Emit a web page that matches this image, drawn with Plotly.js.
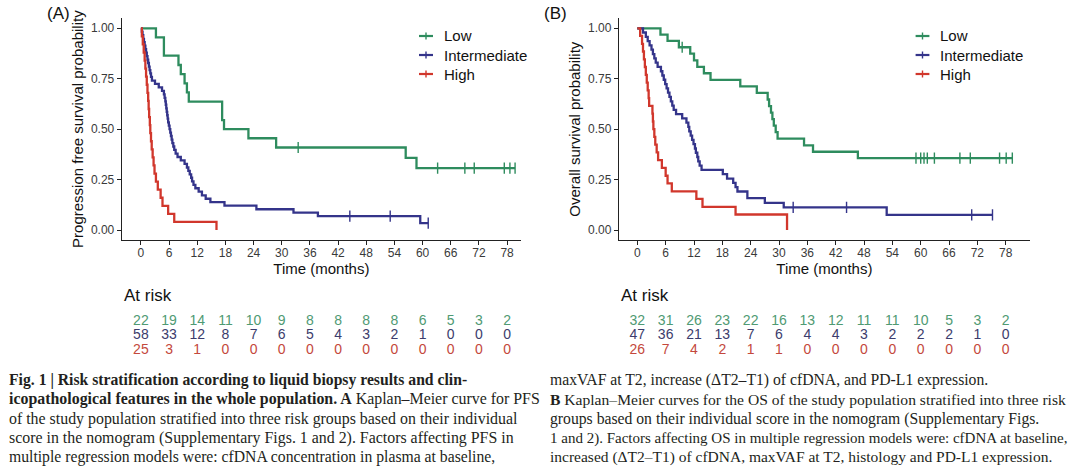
<!DOCTYPE html>
<html><head><meta charset="utf-8">
<script src="https://cdn.plot.ly/plotly-3.0.1.min.js"></script>
<style>html,body{margin:0;padding:0;background:#fff;}#chart{width:1080px;height:476px;}</style>
</head><body><div id="chart"></div>
<script>
// ---------- data ----------
const groups = ['Low', 'Intermediate', 'High'];
const riskTimes = [0, 6, 12, 18, 24, 30, 36, 42, 48, 54, 60, 66, 72, 78];

// Panel A: progression free survival (step times and survival after each step)
const pfsLowTime = [0, 3.2, 4.9, 8.0, 8.5, 9.3, 9.8, 10.2, 17.3, 17.7, 22.9, 28.8, 56.4, 58.7, 79.7];
const pfsLowSurv = [1, 0.955, 0.864, 0.818, 0.773, 0.727, 0.682, 0.636, 0.545, 0.5, 0.455, 0.409, 0.358, 0.307, 0.307];
const pfsLowCens = [33.5, 63.2, 69.0, 71.0, 77.4, 78.6, 79.7];

const pfsIntTime = [0, 0.2, 0.35, 0.5, 0.65, 0.8, 0.95, 1.1, 1.25, 1.4, 1.55, 1.7, 1.85, 2.0, 2.15, 2.35, 3.0, 3.8, 4.5, 4.9, 5.05, 5.2, 5.3, 5.4, 5.5, 5.6, 5.7, 5.8, 5.95, 6.1, 6.25, 6.4, 6.55, 6.7, 6.9, 7.1, 7.4, 7.8, 8.5, 9.3, 9.8, 10.1, 10.4, 10.7, 10.9, 11.2, 11.6, 12.3, 13.0, 13.8, 14.8, 17.8, 24.6, 32.5, 37.7, 59.5, 61.2];
const pfsIntSurv = [1, 0.983, 0.966, 0.948, 0.931, 0.914, 0.897, 0.879, 0.862, 0.845, 0.828, 0.810, 0.793, 0.776, 0.759, 0.741, 0.724, 0.707, 0.690, 0.672, 0.655, 0.638, 0.621, 0.603, 0.586, 0.569, 0.552, 0.534, 0.517, 0.500, 0.483, 0.466, 0.448, 0.431, 0.414, 0.397, 0.379, 0.362, 0.345, 0.328, 0.310, 0.293, 0.276, 0.259, 0.241, 0.224, 0.207, 0.190, 0.172, 0.155, 0.138, 0.121, 0.103, 0.086, 0.069, 0.034, 0.034];
const pfsIntCens = [44.5, 53.1, 61.2];

const pfsHighTime = [0, 0.2, 0.4, 0.6, 0.8, 0.95, 1.1, 1.25, 1.4, 1.55, 1.65, 1.75, 1.9, 2.0, 2.15, 2.3, 2.5, 2.7, 2.9, 3.2, 3.6, 4.2, 4.6, 5.8, 7.1, 16.1];
const pfsHighSurv = [1, 0.96, 0.92, 0.88, 0.84, 0.80, 0.76, 0.72, 0.68, 0.64, 0.60, 0.56, 0.52, 0.48, 0.44, 0.40, 0.36, 0.32, 0.28, 0.24, 0.20, 0.16, 0.12, 0.08, 0.04, 0];
const pfsHighCens = [];

const pfsRiskLow = [22, 19, 14, 11, 10, 9, 8, 8, 8, 8, 6, 5, 3, 2];
const pfsRiskInt = [58, 33, 12, 8, 7, 6, 5, 4, 3, 2, 1, 0, 0, 0];
const pfsRiskHigh = [25, 3, 1, 0, 0, 0, 0, 0, 0, 0, 0, 0, 0, 0];

// Panel B: overall survival
const osLowTime = [0, 4.9, 6.4, 8.8, 11.2, 12.0, 12.7, 14.1, 15.5, 21.8, 25.3, 27.6, 27.9, 28.3, 28.6, 28.9, 29.3, 29.7, 35.3, 37.2, 46.7, 79.4];
const osLowSurv = [1, 0.969, 0.938, 0.906, 0.874, 0.841, 0.809, 0.777, 0.744, 0.712, 0.680, 0.647, 0.614, 0.582, 0.550, 0.517, 0.485, 0.453, 0.420, 0.388, 0.356, 0.356];
const osLowCens = [9.5, 59.0, 60.0, 60.7, 61.4, 62.9, 68.3, 70.5, 76.7, 78.1, 79.4];

const osIntTime = [0, 1.2, 1.8, 2.2, 2.6, 3.0, 3.3, 3.6, 3.9, 4.3, 5.0, 5.3, 5.6, 5.9, 6.2, 6.5, 6.8, 7.1, 7.4, 7.7, 8.2, 9.5, 10.4, 10.8, 11.0, 11.3, 11.6, 11.9, 12.2, 12.4, 12.7, 12.9, 13.2, 13.6, 18.1, 19.0, 20.3, 20.8, 21.2, 23.3, 27.0, 31.0, 52.8, 75.2];
const osIntSurv = [1, 0.979, 0.957, 0.936, 0.915, 0.894, 0.872, 0.851, 0.830, 0.809, 0.787, 0.766, 0.745, 0.723, 0.702, 0.681, 0.660, 0.638, 0.617, 0.596, 0.574, 0.553, 0.532, 0.511, 0.489, 0.468, 0.447, 0.426, 0.404, 0.383, 0.362, 0.340, 0.319, 0.298, 0.277, 0.255, 0.234, 0.213, 0.191, 0.158, 0.135, 0.112, 0.075, 0.075];
const osIntCens = [33.0, 44.3, 70.8, 75.2];

const osHighTime = [0, 0.6, 1.0, 1.2, 1.4, 1.6, 1.8, 2.0, 2.2, 2.4, 2.5, 3.2, 3.3, 3.4, 3.6, 3.8, 4.1, 4.4, 5.2, 6.0, 6.4, 7.3, 12.5, 13.8, 20.8, 31.7];
const osHighSurv = [1, 0.962, 0.923, 0.885, 0.846, 0.808, 0.769, 0.731, 0.692, 0.654, 0.615, 0.577, 0.538, 0.500, 0.462, 0.423, 0.385, 0.346, 0.308, 0.269, 0.231, 0.192, 0.154, 0.115, 0.077, 0];
const osHighCens = [];

const osRiskLow = [32, 31, 26, 23, 22, 16, 13, 12, 11, 11, 10, 5, 3, 2];
const osRiskInt = [47, 36, 21, 13, 7, 6, 4, 4, 3, 2, 2, 2, 1, 0];
const osRiskHigh = [26, 7, 4, 2, 1, 1, 0, 0, 0, 0, 0, 0, 0, 0];

const captionLeft = [
  '<b>Fig. 1 | Risk stratification according to liquid biopsy results and clin-</b>',
  '<b>icopathological features in the whole population. A</b> Kaplan–Meier curve for PFS',
  'of the study population stratified into three risk groups based on their individual',
  'score in the nomogram (Supplementary Figs. 1 and 2). Factors affecting PFS in',
  'multiple regression models were: cfDNA concentration in plasma at baseline,'
];
const captionRight = [
  'maxVAF at T2, increase (ΔT2–T1) of cfDNA, and PD-L1 expression.',
  '<b>B</b> Kaplan–Meier curves for the OS of the study population stratified into three risk',
  'groups based on their individual score in the nomogram (Supplementary Figs.',
  '1 and 2). Factors affecting OS in multiple regression models were: cfDNA at baseline,',
  'increased (ΔT2–T1) of cfDNA, maxVAF at T2, histology and PD-L1 expression.'
];

// ---------- styling ----------
const lineColors = ['#2e8c5e', '#34348a', '#d1372c'];
const riskColors = ['#4f9a73', '#3c3c6c', '#c4483c'];
const W = 1080, H = 476;
const X = px => px / W;
const Y = py => 1 - py / H;
const sans = 'Liberation Sans, Arial, sans-serif';
const serif = 'Liberation Serif, Times New Roman, serif';

function survAt(times, surv, t) {
  let s = surv[0];
  for (let i = 0; i < times.length; i++) { if (times[i] <= t) s = surv[i]; }
  return s;
}

const traces = [];
function addCurves(xa, ya, sets) {
  sets.forEach((d, i) => {
    traces.push({
      type: 'scatter', mode: 'lines', x: d[0], y: d[1], xaxis: xa, yaxis: ya,
      line: {color: lineColors[i], width: 2.3, shape: 'hv'}, name: groups[i], showlegend: false, hoverinfo: 'skip'
    });
    if (d[2].length) {
      traces.push({
        type: 'scatter', mode: 'markers', x: d[2], y: d[2].map(t => survAt(d[0], d[1], t)),
        xaxis: xa, yaxis: ya, showlegend: false, hoverinfo: 'skip',
        marker: {symbol: 'line-ns-open', size: 8, color: lineColors[i], line: {color: lineColors[i], width: 1.4}}
      });
    }
  });
}
addCurves('x', 'y', [[pfsLowTime, pfsLowSurv, pfsLowCens], [pfsIntTime, pfsIntSurv, pfsIntCens], [pfsHighTime, pfsHighSurv, pfsHighCens]]);
addCurves('x2', 'y2', [[osLowTime, osLowSurv, osLowCens], [osIntTime, osIntSurv, osIntCens], [osHighTime, osHighSurv, osHighCens]]);

function addRisk(xa, ya, rows) {
  rows.forEach((r, i) => {
    traces.push({
      type: 'scatter', mode: 'text', x: riskTimes, y: riskTimes.map(() => groups[i]), text: r.map(String),
      xaxis: xa, yaxis: ya, showlegend: false, hoverinfo: 'skip', cliponaxis: false,
      textposition: 'middle center', textfont: {family: sans, size: 14, color: riskColors[i]}
    });
  });
}
addRisk('x', 'y3', [pfsRiskLow, pfsRiskInt, pfsRiskHigh]);
addRisk('x2', 'y4', [osRiskLow, osRiskInt, osRiskHigh]);

const axisCommon = {
  showline: true, linecolor: '#222', linewidth: 1.1, ticks: 'outside', ticklen: 4, tickcolor: '#222', tickwidth: 1,
  showgrid: false, zeroline: false, automargin: false, fixedrange: true,
  tickfont: {family: sans, size: 12, color: '#3a3a3a'}
};
const yDom = [Y(240.1), Y(18.2)];
const riskDom = [Y(358), Y(313)];
const titleFont = {family: sans, size: 15, color: '#111'};

const layout = {
  width: W, height: H, margin: {l: 0, r: 0, t: 0, b: 0}, paper_bgcolor: '#fff', plot_bgcolor: 'rgba(0,0,0,0)',
  showlegend: false, font: {family: sans},
  xaxis: Object.assign({}, axisCommon, {domain: [X(121.8), X(521)], range: [-4.07, 80.96], tickvals: riskTimes, anchor: 'y', ticklabelstandoff: -3,
    title: {text: 'Time (months)', font: titleFont, standoff: 3}}),
  yaxis: Object.assign({}, axisCommon, {domain: yDom, range: [-0.05, 1.05], tickvals: [0, 0.25, 0.5, 0.75, 1], tickformat: '.2f', anchor: 'x',
    title: {text: 'Progression free survival probability', font: titleFont, standoff: 3}}),
  xaxis2: Object.assign({}, axisCommon, {domain: [X(618.9), X(1029.8)], range: [-3.9, 83.1], tickvals: riskTimes, anchor: 'y2', ticklabelstandoff: -3,
    title: {text: 'Time (months)', font: titleFont, standoff: 3}}),
  yaxis2: Object.assign({}, axisCommon, {domain: yDom, range: [-0.05, 1.05], tickvals: [0, 0.25, 0.5, 0.75, 1], tickformat: '.2f', anchor: 'x2',
    title: {text: 'Overall survival probability', font: titleFont, standoff: 3}}),
  yaxis3: {domain: riskDom, type: 'category', categoryarray: ['High', 'Intermediate', 'Low'], range: [-0.552, 2.552], visible: false, anchor: 'x', fixedrange: true},
  yaxis4: {domain: riskDom, type: 'category', categoryarray: ['High', 'Intermediate', 'Low'], range: [-0.552, 2.552], visible: false, anchor: 'x2', fixedrange: true},
  annotations: [],
  shapes: []
};

// panel labels
layout.annotations.push({text: '(A)', xref: 'paper', yref: 'paper', x: X(45), y: Y(13.5), xanchor: 'left', yanchor: 'middle', showarrow: false, font: {family: sans, size: 17, color: '#111'}});
layout.annotations.push({text: '(B)', xref: 'paper', yref: 'paper', x: X(542), y: Y(13.5), xanchor: 'left', yanchor: 'middle', showarrow: false, font: {family: sans, size: 17, color: '#111'}});
// At risk headers
layout.annotations.push({text: 'At risk', xref: 'x domain', yref: 'paper', x: 0, y: Y(295), xanchor: 'left', yanchor: 'middle', showarrow: false, font: {family: sans, size: 17, color: '#111'}});
layout.annotations.push({text: 'At risk', xref: 'x2 domain', yref: 'paper', x: 0, y: Y(295), xanchor: 'left', yanchor: 'middle', showarrow: false, font: {family: sans, size: 17, color: '#111'}});

// legends
const legendRows = [36, 55, 74];
[[419, 433, 442], [915.6, 929.4, 938]].forEach(([x0, x1, xt]) => {
  groups.forEach((g, i) => {
    const yy = legendRows[i];
    layout.shapes.push({type: 'line', xref: 'paper', yref: 'paper', x0: X(x0), x1: X(x1), y0: Y(yy), y1: Y(yy), line: {color: lineColors[i], width: 2.2}});
    layout.shapes.push({type: 'line', xref: 'paper', yref: 'paper', x0: X((x0 + x1) / 2), x1: X((x0 + x1) / 2), y0: Y(yy - 3.5), y1: Y(yy + 3.5), line: {color: lineColors[i], width: 1.4}});
    layout.annotations.push({text: g, xref: 'paper', yref: 'paper', x: X(xt), y: Y(yy), xanchor: 'left', yanchor: 'middle', showarrow: false, font: {family: sans, size: 15, color: '#111'}});
  });
});

// caption
const capRows = [380, 399.3, 419.3, 438.3, 456.7];
const capSizeLeft = [15.7, 15.9, 15.9, 15.9, 15.7];
const capSizeRight = [15.7, 15.6, 15.7, 15.0, 15.5];
captionLeft.forEach((t, i) => layout.annotations.push({text: t, xref: 'paper', yref: 'paper', x: X(6.5), y: Y(capRows[i]), xanchor: 'left', yanchor: 'middle', showarrow: false, font: {family: serif, size: capSizeLeft[i], color: '#231f20'}}));
captionRight.forEach((t, i) => layout.annotations.push({text: t, xref: 'paper', yref: 'paper', x: X(547.5), y: Y(capRows[i]), xanchor: 'left', yanchor: 'middle', showarrow: false, font: {family: serif, size: capSizeRight[i], color: '#231f20'}}));

Plotly.newPlot('chart', traces, layout, {displayModeBar: false, staticPlot: true});
</script>
</body></html>
